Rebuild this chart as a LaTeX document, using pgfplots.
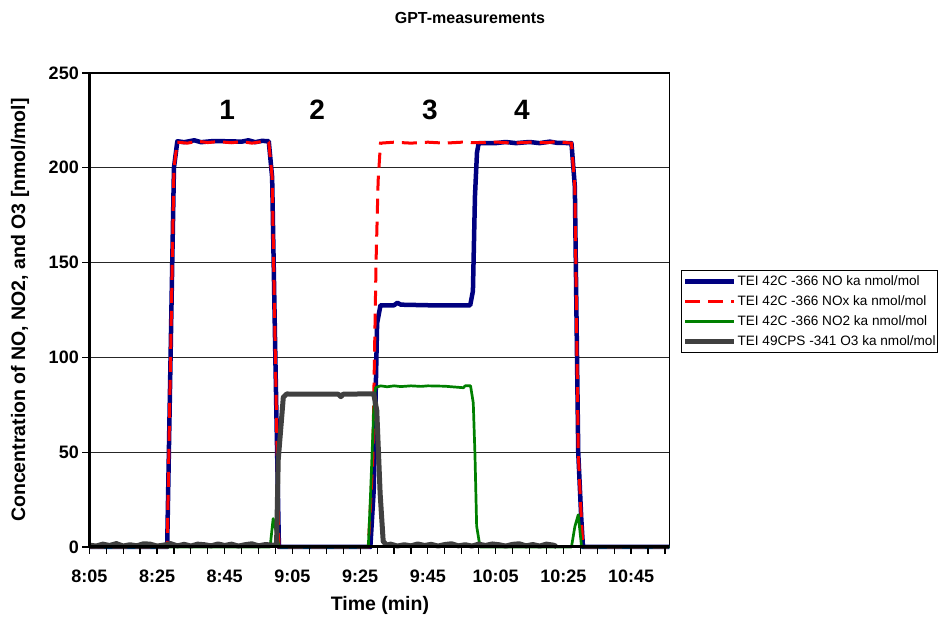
\documentclass[border=0pt]{standalone}
\usepackage{pgfplots}
\pgfplotsset{compat=1.18}
\usepackage{fontspec}
\setmainfont{Liberation Sans}
\definecolor{noblue}{HTML}{000080}
\definecolor{noxred}{HTML}{FF0000}
\definecolor{notwogreen}{HTML}{008000}
\definecolor{othreegray}{HTML}{404040}
\begin{document}
\begin{tikzpicture}[x=1bp,y=1bp]
\path[use as bounding box] (0,0) rectangle (940,620);
\begin{axis}[
  at={(89.3bp,73bp)}, anchor=south west,
  scale only axis, width=580bp, height=474bp,
  xmin=0, xmax=171.3, ymin=0, ymax=250,
  xtick={0,20,...,160},
  xticklabels={8:05,8:25,8:45,9:05,9:25,9:45,10:05,10:25,10:45},
  minor xtick={5,10,...,170},
  ytick={0,50,...,250},
  xtick pos=left, ytick pos=left,
  xtick align=outside, ytick align=outside,
  major tick length=7bp, minor tick length=7bp,
  every tick/.style={black, line width=1.2bp},
  every minor tick/.style={black, line width=1.2bp},
  ymajorgrids, grid style={black!85, line width=0.8bp},
  axis line style={line width=1.5bp},
  ticklabel style={font=\fontsize{18bp}{21bp}\selectfont\bfseries},
  xticklabel style={yshift=-12bp},
  /pgf/number format/assume math mode=true,
  xlabel={Time (min)},
  ylabel={Concentration of NO, NO2, and O3 [nmol/mol]},
  label style={font=\fontsize{19.5bp}{23bp}\selectfont\bfseries},
  xlabel style={at={(axis description cs:0.501,-0.1224)}, anchor=center},
  ylabel style={at={(axis description cs:-0.1195,0.5)}, anchor=center},
  legend style={at={(1.0197,0.5844)}, anchor=north west, draw=black, line width=1bp,
    font=\fontsize{13.6bp}{16bp}\selectfont, inner xsep=1.5bp, inner ysep=3.5bp,
    row sep=4.6bp, nodes={inner xsep=0.8bp}},
  legend cell align=left,
  legend image code/.code={\draw[#1] (0bp,0bp) -- (49bp,0bp);},
  clip=false,
]
\addplot[noblue, line width=4.5bp, line join=round] coordinates {
(0,0) (23,0) (24,100) (25,200) (26,214) (28,213.5) (31,214.5) (33,213.5) (36,214) (40,214)
(45,213.8) (47,214.5) (49,213.5) (51,214.2) (53,214) (54,195) (55,95) (56,0) (83,0) (84,30)
(85,118) (86,127.5) (90,127.5) (91,128.8) (92,127.8) (100,127.5) (112.5,127.5) (113.3,135)
(113.9,185) (114.5,208) (115,213) (120,213) (123,213.6) (126,213) (130,213.6) (133,213)
(136,213.8) (138,213.2) (142.4,213) (143.4,190) (143.9,120) (144.4,50) (145.3,15) (145.8,0) (171.3,0)
};
\addlegendentry{TEI 42C -366 NO ka nmol/mol}
\addplot[noxred, line width=3bp, dash pattern=on 15bp off 8bp] coordinates {
(0,0) (23,0) (24,100) (25,200) (26,213.5) (29,213) (32,214) (35,213.3) (38,213.8) (42,213.2)
(45,213.8) (48,213) (51,213.8) (53,213.5) (54,195) (55,95) (56,0) (82.4,0) (83.7,45) (84.7,151)
(85.3,193) (86,213) (90,213.5) (95,213) (100,213.5) (105,213) (110,213.5) (115,213.2) (120,213.6)
(125,213) (130,213.5) (135,213.2) (138,213.8) (142.4,213) (143.4,190) (143.9,120) (144.4,50)
(145.3,15) (145.8,0) (171.3,0)
};
\addlegendentry{TEI 42C -366 NOx ka nmol/mol}
\addplot[notwogreen, line width=2.7bp, line join=round] coordinates {
(0,0) (53.4,0) (54.3,15) (55.2,8) (56,0) (82.4,0) (83,25) (84,72) (84.5,84) (86,85) (88,84.5)
(90,85) (92,84.6) (95,85) (98,84.7) (100,85) (105,84.8) (110.5,84) (111,85) (112.6,85)
(113.4,76) (113.9,49) (114.4,11) (115.4,0) (142.4,0) (143.4,10.7) (144.4,17) (145.4,0) (171.3,0)
};
\addlegendentry{TEI 42C -366 NO2 ka nmol/mol}
\addplot[othreegray, line width=5bp, line join=round] coordinates {
(0,1) (2,0.5) (4,1.5) (6,0.8) (8,1.8) (10,0.5) (12,1.2) (14,0.6) (16,1.7) (18,1.5) (20,0.5)
(22,1) (24,1.8) (26,0.6) (28,1.4) (30,0.5) (32,1.5) (34,1.2) (36,0.6) (38,1.6) (40,0.8)
(42,1.5) (44,0.5) (46,1.2) (48,1.7) (50,0.6) (52,1.3) (54,1) (55.3,0.8) (55.8,46) (57.3,79)
(58.3,80.7) (65,80.6) (73.5,80.6) (74.3,79.3) (75,80.6) (84,80.8) (84.9,72) (85.9,28)
(86.8,3) (87.8,1) (89,1.5) (91,0.5) (93,1.2) (95,0.6) (97,1.6) (99,0.8) (101,1.4) (103,0.5)
(105,1.3) (107,1.7) (109,0.6) (111,1.2) (113,0.5) (115,1.5) (117,0.8) (119,1.6) (121,1.2)
(123,0.5) (125,1.4) (127,1.7) (129,0.6) (131,1.3) (133,0.5) (135,1.5) (137,1) (138,0.3)
};
\addlegendentry{TEI 49CPS -341 O3 ka nmol/mol}
\draw[black, line width=3bp] (rel axis cs:0,1) -- (rel axis cs:0,0) -- (rel axis cs:1,0);
\pgfplotsinvokeforeach{0,5,...,170}{
  \draw[black, line width=1.2bp] (axis cs:#1,0) -- ++(0bp,-7bp);
}
\node[font=\fontsize{28bp}{32bp}\selectfont\bfseries] at (axis cs:40.7,230.5) {1};
\node[font=\fontsize{28bp}{32bp}\selectfont\bfseries] at (axis cs:67.3,230.5) {2};
\node[font=\fontsize{28bp}{32bp}\selectfont\bfseries] at (axis cs:100.6,230.5) {3};
\node[font=\fontsize{28bp}{32bp}\selectfont\bfseries] at (axis cs:127.8,230.5) {4};
\end{axis}
\node[font=\fontsize{16bp}{19bp}\selectfont\bfseries] at (470,602) {GPT-measurements};
\end{tikzpicture}
\end{document}
